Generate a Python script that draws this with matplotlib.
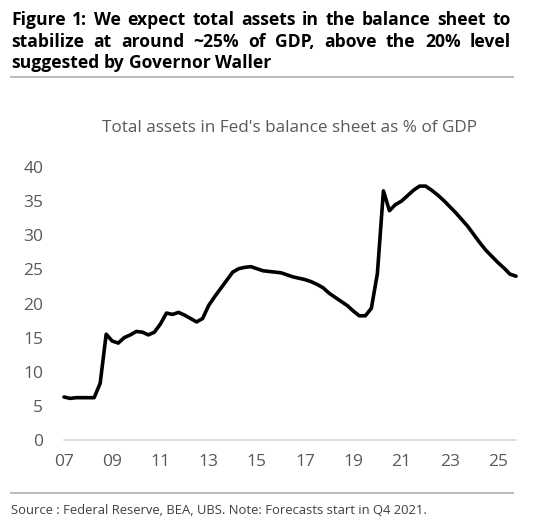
import matplotlib.pyplot as plt
from matplotlib.lines import Line2D

plt.rcParams['font.family'] = ['Open Sans', 'DejaVu Sans']

# quarterly, 2007Q1 .. 2025Q4
assetsPctGdp = [6.3, 6.1, 6.2, 6.2, 6.2, 6.2, 8.3, 15.5, 14.5, 14.2,
                15.0, 15.4, 15.9, 15.8, 15.4, 15.8, 17.0, 18.6, 18.4, 18.7,
                18.3, 17.8, 17.3, 17.8, 19.7, 21.0, 22.2, 23.4, 24.6, 25.1,
                25.3, 25.4, 25.1, 24.8, 24.7, 24.6, 24.5, 24.2, 23.9, 23.7,
                23.5, 23.2, 22.8, 22.3, 21.5, 20.9, 20.3, 19.7, 18.9, 18.2,
                18.2, 19.3, 24.4, 36.5, 33.6, 34.5, 35.0, 35.8, 36.6, 37.2,
                37.2, 36.6, 35.9, 35.1, 34.2, 33.3, 32.3, 31.3, 30.1, 28.9,
                27.8, 26.9, 26.0, 25.2, 24.3, 24.0]
xTickLabels = ['07', '09', '11', '13', '15', '17', '19', '21', '23', '25']
yTicks = [0, 5, 10, 15, 20, 25, 30, 35, 40]

W, H = 554, 526
fig = plt.figure(figsize=(W/100, H/100), dpi=100)
ax = fig.add_axes([64/W, 1-440/H, 452/W, 273/H])

grey = '#595959'
ax.plot(range(len(assetsPctGdp)), assetsPctGdp, color='black', lw=2.6,
        solid_joinstyle='round', solid_capstyle='round', clip_on=False)
ax.set_xlim(0, len(assetsPctGdp)-1)
ax.set_ylim(0, 40)
ax.set_xticks(range(0, len(assetsPctGdp), 8))
ax.set_xticklabels(xTickLabels)
ax.set_yticks(yTicks)
for s in ['top', 'right', 'left']:
    ax.spines[s].set_visible(False)
ax.spines['bottom'].set_color('#d9d9d9')
ax.spines['bottom'].set_linewidth(1.2)
ax.tick_params(length=0, labelsize=12.5, labelcolor=grey)
ax.tick_params(axis='y', pad=15)
ax.tick_params(axis='x', pad=10)

fig.text(290/W, 1-128/H, "Total assets in Fed's balance sheet as % of GDP",
         ha='center', va='center', fontsize=12.3, color=grey)

# justified bold heading
titleLines = ["Figure 1: We expect total assets in the balance sheet to",
              "stabilize at around ~25% of GDP, above the 20% level",
              "suggested by Governor Waller"]
lineYs = [20, 42, 63]
left, right = 11, 511
tsize = 12.6
renderer = fig.canvas.get_renderer()
for k, line in enumerate(titleLines):
    words = line.split(' ')
    objs = [fig.text(0, 1-lineYs[k]/H, w, ha='left', va='center', fontsize=tsize,
                     fontweight='bold', color='black') for w in words]
    widths = [o.get_window_extent(renderer).width for o in objs]
    if k < len(titleLines)-1:
        gap = (right-left-sum(widths))/(len(words)-1)
    else:
        sp = fig.text(0, 0, 'a a', fontsize=tsize, fontweight='bold')
        sp2 = fig.text(0, 0, 'aa', fontsize=tsize, fontweight='bold')
        gap = sp.get_window_extent(renderer).width - sp2.get_window_extent(renderer).width
        sp.remove(); sp2.remove()
    x = left
    for o, w in zip(objs, widths):
        o.set_x(x/W)
        x += w + gap

fig.add_artist(Line2D([11/W, 513/W], [1-77/H, 1-77/H], color='#bfbfbf', lw=1.5))
fig.add_artist(Line2D([11/W, 513/W], [1-493/H, 1-493/H], color='#bfbfbf', lw=1.5))
fig.text(11/W, 1-510/H, "Source : Federal Reserve, BEA, UBS. Note: Forecasts start in Q4 2021.",
         ha='left', va='center', fontsize=9.4, color='#404040')

fig.savefig('out.png', dpi=100)
